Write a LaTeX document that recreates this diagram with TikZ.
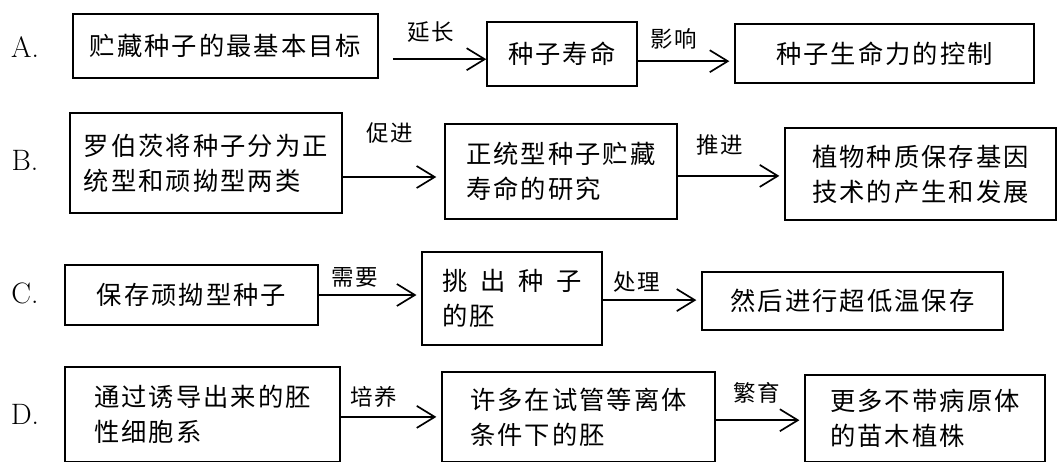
\documentclass[tikz,border=0pt]{standalone}
\usepackage{fontspec}
\newfontfamily\cjk[LetterSpace=8]{Noto Sans CJK SC}
\usetikzlibrary{arrows.meta}
\begin{document}
\begin{tikzpicture}[
  x=0.025cm, y=-0.025cm,
  box/.style={draw, line width=1pt, inner sep=0pt, align=left, font=\cjk\fontsize{18}{25}\selectfont},
  lab/.style={inner sep=0pt, font=\cjk\fontsize{16}{18}\selectfont},
  tag/.style={inner sep=0pt, font=\fontsize{21}{24}\selectfont},
  e/.style={-{Straight Barb[length=4.5mm, width=5.5mm, line width=1.2pt]}, line width=1.2pt, shorten >=1.2mm}
]
\clip (0,0) rectangle (1059,461);

% A
\node[tag] (ta) at (25,47) {A.};
\node[box, minimum width=7.63cm, minimum height=1.6cm] (a1) at (225.5,46) {贮藏种子的最基本目标};
\node[box, minimum width=3.75cm, minimum height=1.6cm] (a2) at (562,54) {种子寿命};
\node[box, minimum width=7.48cm, minimum height=1.48cm] (a3) at (884.5,53.5) {种子生命力的控制};
\node[lab] (la1) at (431,32) {延长};
\node[lab] (la2) at (674,39) {影响};
\draw[e, shorten <=3.5mm, shorten >=0pt] ([yshift=-0.33cm]a1.east) -- ([yshift=-0.33cm]a1.east -| a2.west);
\draw[e] ([yshift=-0.18cm]a2.east) -- ([yshift=-0.18cm]a2.east -| a3.west);

% B
\node[tag] (tb) at (25,160) {B.};
\node[box, minimum width=6.8cm, minimum height=2.5cm] (b1) at (206,163) {罗伯茨将种子分为正\\统型和顽拗型两类};
\node[box, minimum width=5.8cm, minimum height=2.38cm] (b2) at (561,171.5) {正统型种子贮藏\\寿命的研究};
\node[box, minimum width=6.78cm, minimum height=2.3cm] (b3) at (920.5,174) {植物种质保存基因\\技术的产生和发展};
\node[lab] (lb1) at (390,133) {促进};
\node[lab] (lb2) at (720,145) {推进};
\draw[e, shorten >=2mm] ([yshift=-0.35cm]b1.east) -- ([yshift=-0.35cm]b1.east -| b2.west);
\draw[e] ([yshift=-0.11cm]b2.east) -- ([yshift=-0.11cm]b2.east -| b3.west);

% C
\node[tag] (tc) at (25,293) {C.};
\node[box, minimum width=6.33cm, minimum height=1.5cm] (c1) at (191.5,295) {保存顽拗型种子};
\node[box, minimum width=4.5cm, minimum height=2.33cm] (c2) at (512,298.5) {挑\hspace{0.5em}出\hspace{0.5em}种\hspace{0.5em}子\\的胚};
\node[box, minimum width=7.53cm, minimum height=1.45cm] (c3) at (852.5,301) {然后进行超低温保存};
\node[lab] (lc1) at (355,277) {需要};
\node[lab] (lc2) at (637,282) {处理};
\draw[e] (c1.east) -- (c1.east -| c2.west);
\draw[e] ([yshift=-0.04cm]c2.east) -- ([yshift=-0.04cm]c2.east -| c3.west);

% D
\node[tag] (td) at (25,414) {D.};
\node[box, minimum width=6.88cm, minimum height=2.38cm] (d1) at (202.5,414.5) {通过诱导出来的胚\\性细胞系};
\node[box, minimum width=6.83cm, minimum height=2.25cm] (d2) at (578.5,417) {许多在试管等离体\\条件下的胚};
\node[box, minimum width=6.0cm, minimum height=2.18cm] (d3) at (925,418.5) {更多不带病原体\\的苗木植株};
\node[lab] (ld1) at (374,397) {培养};
\node[lab] (ld2) at (757,393) {繁育};
\draw[e] ([yshift=-0.06cm]d1.east) -- ([yshift=-0.06cm]d1.east -| d2.west);
\draw[e] ([yshift=-0.08cm]d2.east) -- ([yshift=-0.08cm]d2.east -| d3.west);
\end{tikzpicture}
\end{document}
